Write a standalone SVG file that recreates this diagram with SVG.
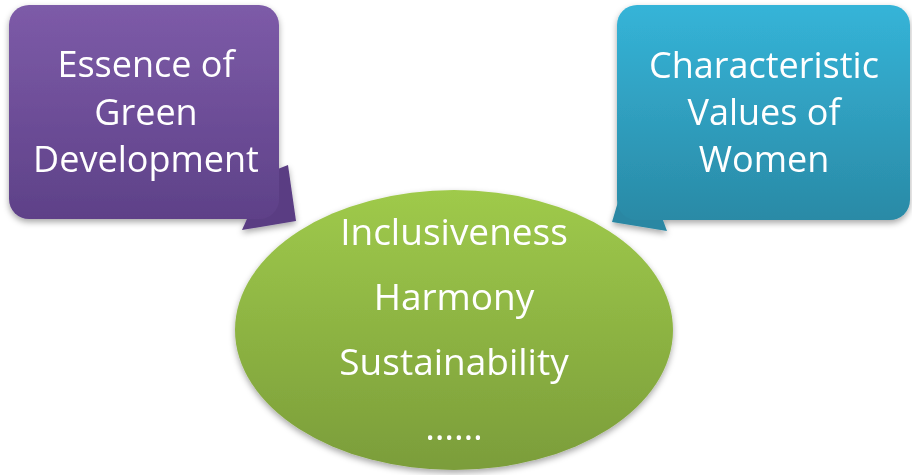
<svg xmlns="http://www.w3.org/2000/svg" width="912" height="475" viewBox="0 0 912 475">
<defs>
<linearGradient id="gP" x1="0" y1="0" x2="0" y2="1"><stop offset="0" stop-color="#7d5ba8"/><stop offset="1" stop-color="#5e4188"/></linearGradient>
<linearGradient id="gB" x1="0" y1="0" x2="0" y2="1"><stop offset="0" stop-color="#35b4d8"/><stop offset="1" stop-color="#2a8aa6"/></linearGradient>
<linearGradient id="gG" x1="0" y1="0" x2="0" y2="1"><stop offset="0" stop-color="#9fca4b"/><stop offset="1" stop-color="#7b9d3a"/></linearGradient>
<filter id="sh" x="-10%" y="-10%" width="120%" height="125%"><feDropShadow dx="0" dy="3" stdDeviation="3" flood-color="#000" flood-opacity="0.35"/></filter>
</defs>
<style>
text{font-family:"Open Sans","Liberation Sans",sans-serif;fill:#fff;text-anchor:middle}
.c{font-size:36px}
.e{font-size:37px}
</style>
<g id="connectors"></g>
<g id="essence" filter="url(#sh)">
<polygon points="270,172 288,165 296,221 242,230 250,212" fill="#5a3e83"/>
<rect x="9" y="5" width="270" height="214" rx="20" fill="url(#gP)"/>
<text class="c" x="146" y="77">Essence of</text>
<text class="c" x="146" y="125">Green</text>
<text class="c" x="146" y="172">Development</text>
</g>
<g id="women" filter="url(#sh)">
<polygon points="625,178 612,222 667,231 660,212" fill="#2a87a3"/>
<rect x="617" y="5" width="293" height="215" rx="20" fill="url(#gB)"/>
<text class="c" x="764" y="78">Characteristic</text>
<text class="c" x="764" y="125">Values of</text>
<text class="c" x="764" y="172">Women</text>
</g>
<g id="values" filter="url(#sh)">
<ellipse cx="454" cy="330" rx="219" ry="140" fill="url(#gG)"/>
<text class="e" x="454" y="245">Inclusiveness</text>
<text class="e" x="454" y="310">Harmony</text>
<text class="e" x="454" y="375">Sustainability</text>
<text class="e" x="454" y="440">……</text>
</g>
</svg>
